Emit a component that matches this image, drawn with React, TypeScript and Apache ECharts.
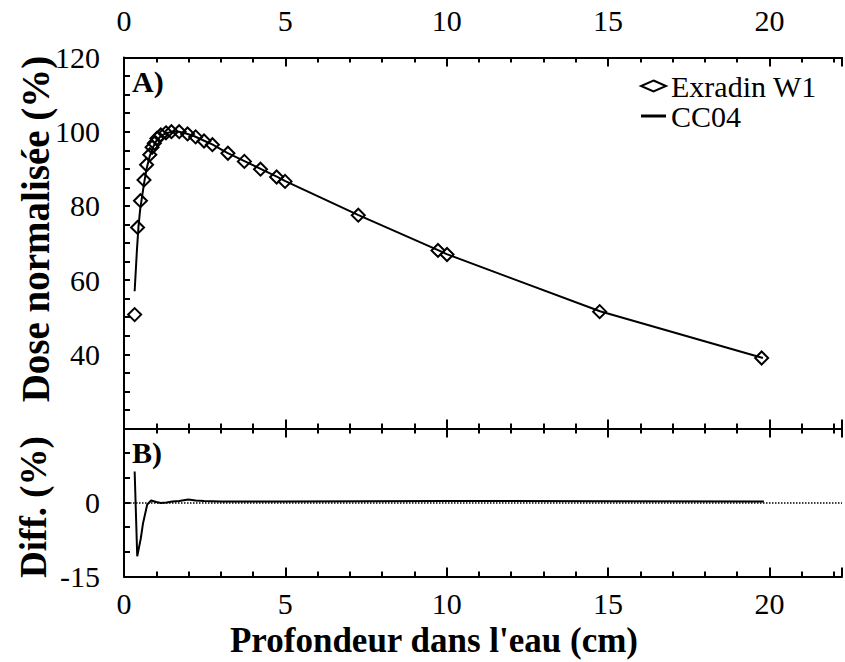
import React, { useEffect, useRef } from 'react';
import * as echarts from 'echarts';

// Exradin W1 measured points (depth cm, normalised dose %)
const w1Depth = [0.33, 0.42, 0.51, 0.62, 0.70, 0.80, 0.87, 0.94, 1.02, 1.14, 1.30, 1.47, 1.71, 1.97, 2.22, 2.48, 2.74, 3.22, 3.73, 4.23, 4.73, 4.99, 7.26, 9.73, 10.01, 14.74, 19.76];
const w1Dose = [50.7, 74.2, 81.4, 87.0, 91.1, 93.8, 95.8, 96.9, 98.2, 99.1, 99.7, 100.0, 100.0, 99.4, 98.6, 97.5, 96.5, 94.2, 92.0, 89.9, 87.8, 86.6, 77.5, 68.0, 66.9, 51.5, 39.0];

// CC04 reference curve
const cc04Depth = [0.33, 0.40, 0.45, 0.50, 0.56, 0.62, 0.70, 0.80, 0.90, 1.00, 1.15, 1.30, 1.50, 1.70, 1.90, 2.20, 2.50, 2.75, 3.20, 3.75, 4.25, 4.75, 5.00, 7.25, 9.75, 10.00, 14.75, 19.80];
const cc04Dose = [57.0, 68.0, 74.5, 79.0, 82.5, 86.0, 90.0, 93.5, 95.8, 97.5, 98.9, 99.6, 100.0, 100.0, 99.6, 98.7, 97.5, 96.5, 94.3, 92.0, 89.9, 87.8, 86.7, 77.6, 68.0, 67.0, 51.6, 39.0];

// Difference panel (%)
const diffDepth = [0.33, 0.41, 0.52, 0.59, 0.72, 0.84, 1.00, 1.14, 1.32, 1.50, 1.71, 1.99, 2.22, 2.48, 3.00, 5.00, 10.00, 15.00, 19.83];
const diffValue = [6.3, -10.9, -7.3, -4.2, -0.4, 0.4, 0.1, -0.1, 0.0, 0.2, 0.3, 0.6, 0.4, 0.3, 0.2, 0.2, 0.3, 0.25, 0.2];

// Tick labels
const depthTickLabels = [0, 5, 10, 15, 20];
const doseTickLabels = [40, 60, 80, 100, 120];
const diffTickLabels = [-15, 0];

const FONT = 'Liberation Serif';

export default function App() {
  const ref = useRef<HTMLDivElement>(null);

  useEffect(() => {
    if (!ref.current) return;
    const chart = echarts.init(ref.current, null, { renderer: 'svg' });

    const X_MIN = 0;
    const X_MAX = 22.25;
    const black = '#000';

    const mkX = (gridIndex: number, position: 'top' | 'bottom', major: boolean, labels: boolean) => ({
      type: 'value',
      gridIndex,
      position,
      min: X_MIN,
      max: X_MAX,
      interval: major ? 5 : 1,
      axisLine: { show: !major, onZero: false, lineStyle: { color: black, width: 2 } },
      axisTick: { show: true, inside: true, length: major ? 9 : 5, lineStyle: { color: black, width: 2 } },
      axisLabel: {
        show: labels,
        margin: position === 'top' ? 22 : 12,
        fontSize: 30,
        fontFamily: FONT,
        color: black,
        formatter: (v: number) => (depthTickLabels.includes(v) ? String(v) : ''),
      },
      splitLine: { show: false },
    });

    chart.setOption({
      animation: false,
      backgroundColor: '#fff',
      grid: [
        { left: 124, top: 57.5, right: 0, height: 371 },
        { left: 124, top: 428.5, right: 0, height: 148 },
      ],
      xAxis: [
        mkX(0, 'top', false, true),
        mkX(0, 'top', true, false),
        mkX(0, 'bottom', false, false),
        mkX(0, 'bottom', true, false),
        mkX(1, 'top', false, false),
        mkX(1, 'top', true, false),
        mkX(1, 'bottom', false, true),
        mkX(1, 'bottom', true, false),
      ],
      yAxis: [
        {
          type: 'value',
          gridIndex: 0,
          position: 'left',
          min: 20,
          max: 120,
          interval: 5,
          axisLine: { show: true, onZero: false, lineStyle: { color: black, width: 2 } },
          axisTick: { show: true, inside: true, length: 6, lineStyle: { color: black, width: 2 } },
          axisLabel: {
            margin: 24,
            fontSize: 30,
            fontFamily: FONT,
            color: black,
            formatter: (v: number) => (doseTickLabels.includes(v) ? String(v) : ''),
          },
          splitLine: { show: false },
        },
        {
          type: 'value',
          gridIndex: 1,
          position: 'left',
          min: -15,
          max: 15,
          interval: 5,
          axisLine: { show: true, onZero: false, lineStyle: { color: black, width: 2 } },
          axisTick: { show: true, inside: true, length: 6, lineStyle: { color: black, width: 2 } },
          axisLabel: {
            margin: 24,
            fontSize: 30,
            fontFamily: FONT,
            color: black,
            formatter: (v: number) => (diffTickLabels.includes(v) ? String(v) : ''),
          },
          splitLine: { show: false },
        },
      ],
      legend: {
        orient: 'vertical',
        left: 640,
        top: 71,
        padding: 0,
        itemWidth: 25,
        itemHeight: 11,
        itemGap: 0,
        data: [
          {
            name: 'Exradin W1',
            icon: 'diamond',
            itemStyle: { color: 'rgba(255,255,255,0)', borderColor: black, borderWidth: 2, opacity: 1 },
          },
          {
            name: 'CC04',
            icon: 'path://M0 0H25V3H0Z',
            itemStyle: { color: black, borderWidth: 0, opacity: 1 },
          },
        ],
        textStyle: { fontSize: 30, fontFamily: FONT, color: black },
      },
      series: [
        {
          name: 'CC04',
          type: 'line',
          xAxisIndex: 0,
          yAxisIndex: 0,
          symbol: 'none',
          showSymbol: false,
          lineStyle: { color: black, width: 2 },
          itemStyle: { color: black },
          data: cc04Depth.map((d, i) => [d, cc04Dose[i]]),
          z: 2,
        },
        {
          name: 'Exradin W1',
          type: 'scatter',
          xAxisIndex: 0,
          yAxisIndex: 0,
          symbol: 'diamond',
          symbolSize: 13,
          itemStyle: { color: 'rgba(255,255,255,0)', borderColor: black, borderWidth: 2, opacity: 1 },
          data: w1Depth.map((d, i) => [d, w1Dose[i]]),
          z: 3,
        },
        {
          name: 'Diff',
          type: 'line',
          xAxisIndex: 6,
          yAxisIndex: 1,
          symbol: 'none',
          showSymbol: false,
          lineStyle: { color: black, width: 2 },
          data: diffDepth.map((d, i) => [d, diffValue[i]]),
          markLine: {
            silent: true,
            symbol: 'none',
            label: { show: false },
            lineStyle: { color: black, type: 'dotted', width: 1.5 },
            data: [{ yAxis: 0 }],
          },
        },
      ],
      graphic: [
        {
          type: 'text',
          x: 132,
          y: 81,
          style: { text: 'A)', fontSize: 30, fontWeight: 'bold', fontFamily: FONT, fill: black, align: 'left', verticalAlign: 'middle' },
        },
        {
          type: 'text',
          x: 132,
          y: 452,
          style: { text: 'B)', fontSize: 30, fontWeight: 'bold', fontFamily: FONT, fill: black, align: 'left', verticalAlign: 'middle' },
        },
        {
          type: 'text',
          x: 434,
          y: 640,
          style: { text: "Profondeur dans l'eau (cm)", fontSize: 35, fontWeight: 'bold', fontFamily: FONT, fill: black, align: 'center', verticalAlign: 'middle' },
        },
        {
          type: 'text',
          x: 35,
          y: 229,
          rotation: Math.PI / 2,
          style: { text: 'Dose normalisée (%)', fontSize: 39, fontWeight: 'bold', fontFamily: FONT, fill: black, align: 'center', verticalAlign: 'middle' },
        },
        {
          type: 'text',
          x: 33,
          y: 507,
          rotation: Math.PI / 2,
          style: { text: 'Diff. (%)', fontSize: 37, fontWeight: 'bold', fontFamily: FONT, fill: black, align: 'center', verticalAlign: 'middle' },
        },
      ],
    });

    return () => chart.dispose();
  }, []);

  return (
    <div
      ref={ref}
      style={{ position: 'absolute', left: 0, top: 0, width: 845, height: 662, background: '#fff' }}
    />
  );
}
